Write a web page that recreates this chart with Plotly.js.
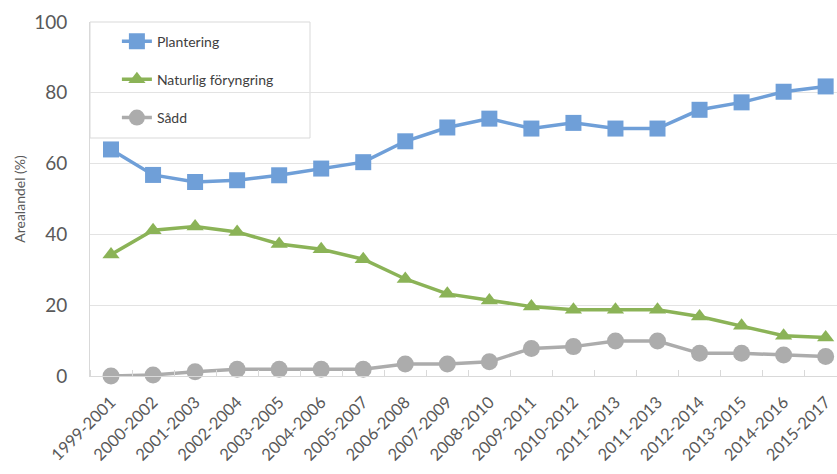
<!DOCTYPE html>
<html>
<head>
<meta charset="utf-8">
<script src="https://cdn.plot.ly/plotly-3.0.1.min.js"></script>
<style>
  html, body { margin: 0; padding: 0; background: #ffffff; }
  #chart { width: 837px; height: 474px; }
</style>
</head>
<body>
<div id="chart"></div>
<script>
// Three-year periods (one period appears twice in the source series)
const periods = [
  "1999-2001", "2000-2002", "2001-2003", "2002-2004", "2003-2005", "2004-2006",
  "2005-2007", "2006-2008", "2007-2009", "2008-2010", "2009-2011", "2010-2012",
  "2011-2013", "2011-2013", "2012-2014", "2013-2015", "2014-2016", "2015-2017"
];

// Share of regenerated area (%) by method
const plantering = [64.0, 56.8, 54.8, 55.3, 56.7, 58.6, 60.4, 66.3, 70.2, 72.7, 69.9, 71.5, 69.9, 69.9, 75.2, 77.3, 80.3, 81.8];
const naturlig   = [34.3, 41.2, 42.2, 40.7, 37.3, 35.8, 33.0, 27.4, 23.2, 21.3, 19.6, 18.7, 18.7, 18.7, 16.8, 14.2, 11.4, 10.9];
const sadd       = [0.0, 0.3, 1.2, 1.9, 1.9, 1.9, 1.9, 3.4, 3.4, 4.0, 7.8, 8.3, 9.9, 9.9, 6.4, 6.4, 5.9, 5.5];

const seriesNames = ["Plantering", "Naturlig föryngring", "Sådd"];
const yTicks = [0, 20, 40, 60, 80, 100];

const xIdx = periods.map((_, i) => i);
const boundaries = periods.map((_, i) => i - 0.5).concat([periods.length - 0.5]);

const FONT = "Lato, 'Open Sans', sans-serif";

function series(name, y, color, symbol, size, group) {
  return {
    type: "scatter", mode: "lines+markers", name: name,
    x: xIdx, y: y, legendgroup: group, cliponaxis: false,
    line: { color: color, width: 3.5 },
    marker: { color: color, symbol: symbol, size: size }
  };
}

const traces = [
  series(seriesNames[0], plantering, "#6f9fd8", "square", 16, "a"),
  series(seriesNames[1], naturlig, "#8bb357", "triangle-up", 15, "b"),
  series(seriesNames[2], sadd, "#acacac", "circle", 17, "c")
];

const layout = {
  width: 837, height: 474,
  margin: { l: 90, r: 0, t: 22, b: 98 },
  paper_bgcolor: "#ffffff",
  plot_bgcolor: "rgba(0,0,0,0)",
  font: { family: FONT, color: "#595959" },
  showlegend: true,
  legend: {
    x: 0.036, y: 0.99, xanchor: "left", yanchor: "top",
    bgcolor: "rgba(0,0,0,0)", borderwidth: 0,
    traceorder: "grouped", tracegroupgap: 17,
    font: { family: FONT, size: 14, color: "#404040" }
  },
  shapes: [{
    type: "rect", xref: "paper", yref: "paper", layer: "between",
    x0: 0, x1: 220 / 747, y0: 1 - 116 / 354, y1: 1,
    fillcolor: "#ffffff", line: { color: "#d9d9d9", width: 1 }
  }],
  xaxis: {
    range: [-0.5, 17.27],
    tickmode: "array", tickvals: xIdx, ticktext: periods,
    tickangle: -45, ticks: "",
    ticklabelstandoff: 9,
    tickfont: { family: FONT, size: 16.5, color: "#595959" },
    showgrid: false, zeroline: false,
    showline: true, linecolor: "#d9d9d9", linewidth: 1,
    minor: { tickmode: "array", tickvals: boundaries, ticks: "inside", ticklen: 6, tickcolor: "#d9d9d9", showgrid: false }
  },
  yaxis: {
    range: [0, 100],
    tickmode: "array", tickvals: yTicks,
    ticks: "", ticklabelstandoff: 18,
    tickfont: { family: FONT, size: 19, color: "#595959" },
    showgrid: true, gridcolor: "#e3e3e3", gridwidth: 1,
    zeroline: false,
    showline: true, linecolor: "#d9d9d9", linewidth: 1,
    title: { text: "Arealandel (%)", font: { family: FONT, size: 14, color: "#595959" }, standoff: 5 }
  }
};

Plotly.newPlot("chart", traces, layout, { displayModeBar: false, staticPlot: true });
</script>
</body>
</html>
